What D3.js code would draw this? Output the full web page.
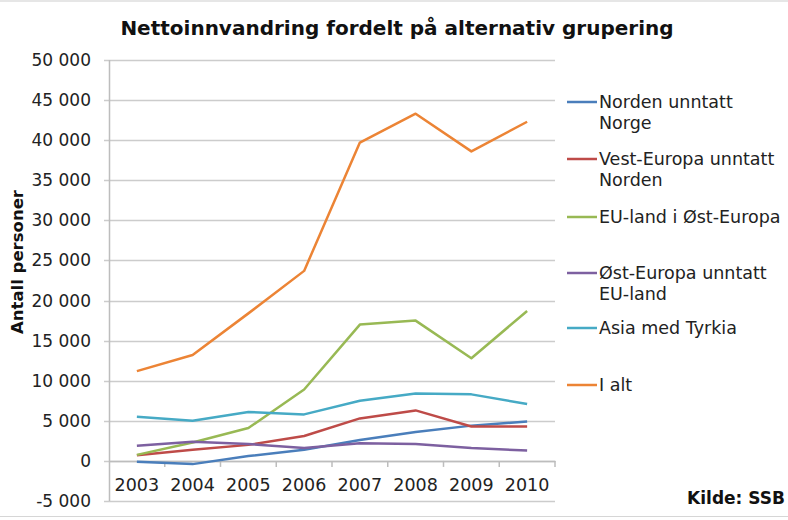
<!DOCTYPE html>
<html>
<head>
<meta charset="utf-8">
<script src="https://cdn.jsdelivr.net/npm/d3@7"></script>
<style>
  body { margin: 0; background: #fff; }
  svg { font-family: "DejaVu Sans", Verdana, sans-serif; }
</style>
</head>
<body>
<svg width="788" height="520"></svg>
<script>
var years = ["2003", "2004", "2005", "2006", "2007", "2008", "2009", "2010"];
var yTicks = [-5000, 0, 5000, 10000, 15000, 20000, 25000, 30000, 35000, 40000, 45000, 50000];

var norden = [-100, -400, 600, 1400, 2600, 3600, 4400, 4900];
var vestEuropa = [700, 1400, 2000, 3100, 5300, 6300, 4300, 4300];
var euOst = [750, 2300, 4100, 8900, 17000, 17500, 12800, 18700];
var ostEuropa = [1900, 2400, 2100, 1600, 2200, 2100, 1600, 1300];
var asia = [5500, 5000, 6100, 5800, 7500, 8400, 8300, 7100];
var iAlt = [11200, 13200, 18400, 23700, 39700, 43300, 38600, 42300];

var seriesNames = ["Norden unntatt\nNorge", "Vest-Europa unntatt\nNorden", "EU-land i Øst-Europa",
  "Øst-Europa unntatt\nEU-land", "Asia med Tyrkia", "I alt"];
var seriesValues = [norden, vestEuropa, euOst, ostEuropa, asia, iAlt];
var colors = ["#4a7ebb", "#be4b48", "#98b954", "#7d60a0", "#46aac5", "#ec8435"];
// legend text baselines (first line of each entry)
var legendY = [108, 165, 223, 279, 334, 391];

var svg = d3.select("svg");

var x = d3.scaleBand().domain(years).range([109, 555]);
var y = d3.scaleLinear().domain([-5000, 50000]).range([501, 60]);

var fmt = function (d) {
  return d3.format(",")(d).replace(/,/g, " ").replace("\u2212", "-");
};

// gridlines
svg.append("g")
  .selectAll("line")
  .data(yTicks)
  .enter()
  .append("line")
  .attr("x1", 104)
  .attr("x2", 555)
  .attr("y1", d => Math.round(y(d)) + 0.5)
  .attr("y2", d => Math.round(y(d)) + 0.5)
  .attr("stroke", "#cccccc")
  .attr("stroke-width", 1.5);

// y labels
svg.append("g")
  .selectAll("text")
  .data(yTicks)
  .enter()
  .append("text")
  .attr("x", 91)
  .attr("y", d => y(d) + 6)
  .attr("text-anchor", "end")
  .attr("font-size", 17)
  .attr("fill", "#222")
  .text(fmt);

// y axis line
svg.append("line")
  .attr("x1", 109.5).attr("x2", 109.5)
  .attr("y1", y(50000)).attr("y2", y(-5000))
  .attr("stroke", "#bdbdbd").attr("stroke-width", 1.5);

// x axis at zero
var xAxis = svg.append("g")
  .attr("transform", "translate(0," + y(0) + ")")
  .call(d3.axisBottom(x).tickSize(0).tickFormat(""));
xAxis.select(".domain").attr("stroke", "#bdbdbd").attr("stroke-width", 1.5);

svg.append("g")
  .selectAll("line")
  .data(years)
  .enter()
  .append("line")
  .attr("x1", d => x(d) + x.bandwidth())
  .attr("x2", d => x(d) + x.bandwidth())
  .attr("y1", y(0))
  .attr("y2", y(0) + 6)
  .attr("stroke", "#bdbdbd")
  .attr("stroke-width", 1.5);

svg.append("g")
  .selectAll("text")
  .data(years)
  .enter()
  .append("text")
  .attr("x", d => x(d) + x.bandwidth() / 2)
  .attr("y", 491)
  .attr("text-anchor", "middle")
  .attr("font-size", 17.5)
  .attr("fill", "#222")
  .text(d => d);

// lines
var line = d3.line()
  .x((d, i) => x(years[i]) + x.bandwidth() / 2)
  .y(d => y(d));

svg.append("g")
  .selectAll("path")
  .data(seriesValues)
  .enter()
  .append("path")
  .attr("d", d => line(d))
  .attr("fill", "none")
  .attr("stroke", (d, i) => colors[i])
  .attr("stroke-width", 2.5)
  .attr("stroke-linejoin", "round");

// legend
var leg = svg.append("g")
  .selectAll("g")
  .data(seriesNames)
  .enter()
  .append("g");

leg.append("line")
  .attr("x1", 567).attr("x2", 597)
  .attr("y1", (d, i) => legendY[i] - 6)
  .attr("y2", (d, i) => legendY[i] - 6)
  .attr("stroke", (d, i) => colors[i])
  .attr("stroke-width", 2.5);

leg.append("text")
  .attr("x", 599)
  .attr("y", (d, i) => legendY[i])
  .attr("font-size", 17.5)
  .attr("fill", "#222")
  .selectAll("tspan")
  .data(d => d.split("\n"))
  .enter()
  .append("tspan")
  .attr("x", 599)
  .attr("dy", (d, i) => i ? 21 : 0)
  .text(d => d);

// titles
svg.append("text")
  .attr("x", 397)
  .attr("y", 35)
  .attr("text-anchor", "middle")
  .attr("font-size", 20)
  .attr("font-weight", "bold")
  .attr("fill", "#111")
  .text("Nettoinnvandring fordelt på alternativ grupering");

svg.append("text")
  .attr("transform", "translate(23,262) rotate(-90)")
  .attr("text-anchor", "middle")
  .attr("font-size", 16.5)
  .attr("font-weight", "bold")
  .attr("fill", "#111")
  .text("Antall personer");

svg.append("text")
  .attr("x", 785)
  .attr("y", 504)
  .attr("text-anchor", "end")
  .attr("font-size", 17)
  .attr("font-weight", "bold")
  .attr("fill", "#111")
  .text("Kilde: SSB");

// frame lines
svg.append("line")
  .attr("x1", 0).attr("x2", 788).attr("y1", 516.5).attr("y2", 516.5)
  .attr("stroke", "#d6d6d6");
svg.append("line")
  .attr("x1", 0).attr("x2", 788).attr("y1", 1).attr("y2", 1)
  .attr("stroke", "#e6e6e6").attr("stroke-width", 2);
</script>
</body>
</html>
